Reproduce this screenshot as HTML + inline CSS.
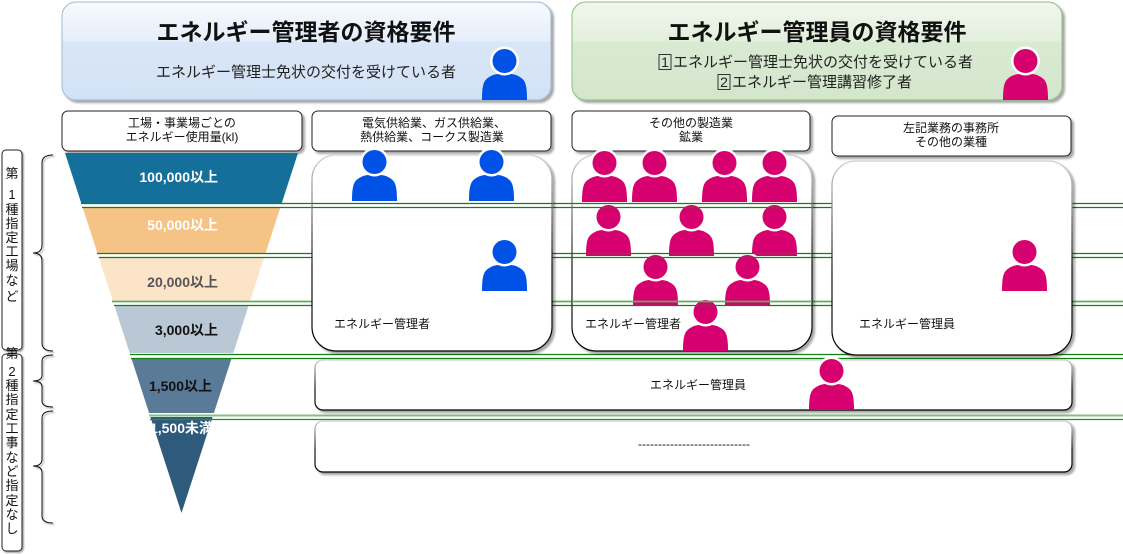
<!DOCTYPE html>
<html lang="ja">
<head>
<meta charset="utf-8">
<style>
  html,body{margin:0;padding:0;background:#fff;}
  body{width:1123px;height:554px;overflow:hidden;}
  svg{display:block;}
  text{font-family:"Liberation Sans","Noto Sans CJK JP",sans-serif;}
</style>
</head>
<body>
<svg width="1123" height="554" viewBox="0 0 1123 554" xmlns="http://www.w3.org/2000/svg">
  <defs>
    <filter id="sh" x="-5%" y="-5%" width="115%" height="125%">
      <feDropShadow dx="2.5" dy="2.5" stdDeviation="1" flood-color="#000" flood-opacity="0.35"/>
    </filter>
    <filter id="shs" x="-20%" y="-5%" width="160%" height="115%">
      <feDropShadow dx="1.5" dy="1.5" stdDeviation="0.8" flood-color="#000" flood-opacity="0.35"/>
    </filter>
    <linearGradient id="gBlue" x1="0" y1="0" x2="0" y2="1">
      <stop offset="0" stop-color="#f7fafe"/>
      <stop offset="0.4" stop-color="#e5eefa"/>
      <stop offset="0.41" stop-color="#d9e6f7"/>
      <stop offset="1" stop-color="#d2e2f5"/>
    </linearGradient>
    <linearGradient id="gGreen" x1="0" y1="0" x2="0" y2="1">
      <stop offset="0" stop-color="#f1f8ee"/>
      <stop offset="0.4" stop-color="#e2efdc"/>
      <stop offset="0.41" stop-color="#d9ead3"/>
      <stop offset="1" stop-color="#d3e6cc"/>
    </linearGradient>
    <linearGradient id="gStroke" x1="0" y1="0" x2="0" y2="1">
      <stop offset="0" stop-color="#d0d0d0"/>
      <stop offset="0.55" stop-color="#1a1a1a"/>
      <stop offset="1" stop-color="#000"/>
    </linearGradient>
    <clipPath id="funnelClip">
      <polygon points="65,153 298,153 181.5,513"/>
    </clipPath>
    <clipPath id="band6">
      <polygon points="150.4,417 212.6,417 181.5,513"/>
    </clipPath>
    <g id="person">
      <path d="M1,51 C1,42 1.5,34 5,30.5 C8,27.5 12,25.5 17,25 L30,25 C35,25.5 39,27.5 42,30.5 C45.5,34 46,42 46,51 Z"/>
      <circle cx="23.5" cy="12" r="14.5" fill="#fff"/>
      <circle cx="23.5" cy="12" r="12"/>
    </g>
  </defs>

  <!-- Header boxes -->
  <rect x="62" y="2" width="489" height="98" rx="14" fill="url(#gBlue)" stroke="#a3bad6" stroke-width="1" filter="url(#sh)"/>
  <text x="306" y="40" text-anchor="middle" font-size="23" font-weight="bold" fill="#111">エネルギー管理者の資格要件</text>
  <text x="306" y="77" text-anchor="middle" font-size="15" fill="#222">エネルギー管理士免状の交付を受けている者</text>
  <use href="#person" x="481" y="49" fill="#0052e6"/>

  <rect x="572" y="2" width="490" height="98" rx="14" fill="url(#gGreen)" stroke="#8fc07e" stroke-width="1" filter="url(#sh)"/>
  <text x="817" y="40" text-anchor="middle" font-size="23" font-weight="bold" fill="#111">エネルギー管理員の資格要件</text>
  <rect x="659" y="54.5" width="12" height="15" fill="none" stroke="#333" stroke-width="1"/>
  <text x="665" y="67" text-anchor="middle" font-size="14" fill="#222">1</text>
  <text x="673" y="67" font-size="15" fill="#222">エネルギー管理士免状の交付を受けている者</text>
  <rect x="718" y="74.5" width="12" height="15" fill="none" stroke="#333" stroke-width="1"/>
  <text x="724" y="87" text-anchor="middle" font-size="14" fill="#222">2</text>
  <text x="732" y="87" font-size="15" fill="#222">エネルギー管理講習修了者</text>
  <use href="#person" x="1002" y="49" fill="#d6006f"/>

  <!-- Category label boxes -->
  <g filter="url(#sh)">
    <rect x="62" y="111" width="240" height="40" rx="6" fill="#fff" stroke="#222"/>
    <rect x="312" y="111" width="239" height="40" rx="6" fill="#fff" stroke="#222"/>
    <rect x="572" y="111" width="238" height="40" rx="6" fill="#fff" stroke="#222"/>
    <rect x="832" y="116" width="239" height="40" rx="6" fill="#fff" stroke="#222"/>
  </g>
  <g font-size="12" fill="#111" text-anchor="middle">
    <text x="182" y="127">工場・事業場ごとの</text>
    <text x="182" y="141">エネルギー使用量(kl)</text>
    <text x="434" y="127">電気供給業、ガス供給業、</text>
    <text x="432" y="141">熱供給業、コークス製造業</text>
    <text x="691" y="127">その他の製造業</text>
    <text x="691" y="141">鉱業</text>
    <text x="951" y="132">左記業務の事務所</text>
    <text x="951" y="146">その他の業種</text>
  </g>

  <!-- Left vertical labels -->
  <g filter="url(#shs)">
    <rect x="2" y="150" width="20" height="200" rx="4" fill="#fff" stroke="#222"/>
    <rect x="2" y="354" width="20" height="197" rx="4" fill="#fff" stroke="#222"/>
  </g>
  <g font-size="13" fill="#111" text-anchor="middle">
    <text x="12" y="178">第</text>
    <text x="12" y="199">1</text>
    <text x="12" y="214">種</text>
    <text x="12" y="228">指</text>
    <text x="12" y="242">定</text>
    <text x="12" y="256">工</text>
    <text x="12" y="270">場</text>
    <text x="12" y="285">な</text>
    <text x="12" y="301">ど</text>

    <text x="12" y="358">第</text>
    <text x="12" y="376">2</text>
    <text x="12" y="390">種</text>
    <text x="12" y="404">指</text>
    <text x="12" y="419">定</text>
    <text x="12" y="433">工</text>
    <text x="12" y="447">事</text>
    <text x="12" y="462">な</text>
    <text x="12" y="476">ど</text>
    <text x="12" y="490">指</text>
    <text x="12" y="505">定</text>
    <text x="12" y="519">な</text>
    <text x="12" y="533">し</text>
  </g>

  <!-- Braces -->
  <g fill="none" stroke="#111" stroke-width="1" filter="url(#shs)">
    <path d="M53,155 Q42,155 42,163 L42,245 Q42,253 33,253 Q42,253 42,261 L42,343 Q42,351 53,351"/>
    <path d="M53,355 Q42,355 42,361 L42,375 Q42,381 33,381 Q42,381 42,387 L42,401 Q42,407 53,407"/>
    <path d="M53,411 Q42,411 42,418 L42,459 Q42,466 33,466 Q42,466 42,473 L42,516 Q42,523 53,523"/>
  </g>

  <!-- Funnel -->
  <polygon points="65,153 298,153 281.8,203 81.2,203" fill="#14709a"/>
  <polygon points="82.5,207 280.5,207 265.6,253 97.4,253" fill="#f6c386"/>
  <polygon points="98.7,257 264.3,257 250.1,301 112.9,301" fill="#fce4c9"/>
  <polygon points="114.2,305 248.8,305 233.3,353 129.7,353" fill="#b9c8d4"/>
  <polygon points="131.3,358 231.7,358 213.9,413 149.1,413" fill="#5a7b98"/>
  <polygon points="150.4,417 212.6,417 181.5,513" fill="#2e5a7b"/>

  <g font-size="14" font-weight="bold" text-anchor="end">
    <text x="218" y="182" fill="#fff">100,000以上</text>
    <text x="218" y="230" fill="#fff">50,000以上</text>
    <text x="218" y="287" fill="#555">20,000以上</text>
    <text x="218" y="335" fill="#111">3,000以上</text>
    <text x="212" y="391" fill="#111">1,500以上</text>
    <text x="213" y="433" fill="#fff" clip-path="url(#band6)">1,500未満</text>
  </g>

  <!-- Horizontal double lines (background layer) -->
  <g stroke-width="1.3" fill="none">
    <line x1="81" y1="203.5" x2="1123" y2="203.5" stroke="#128012"/>
    <line x1="82" y1="207.5" x2="1123" y2="207.5" stroke="#128012"/>
    <line x1="97" y1="253.5" x2="1123" y2="253.5" stroke="#128012"/>
    <line x1="99" y1="257.5" x2="1123" y2="257.5" stroke="#128012"/>
    <line x1="112" y1="301.5" x2="1123" y2="301.5" stroke="#5fae5f" stroke-width="1.8"/>
    <line x1="114" y1="305.5" x2="1123" y2="305.5" stroke="#128012"/>
    <line x1="130" y1="354.5" x2="1123" y2="354.5" stroke="#128012"/>
    <line x1="131" y1="358.5" x2="1123" y2="358.5" stroke="#128012"/>
    <line x1="149" y1="415.5" x2="1123" y2="415.5" stroke="#80c080" stroke-width="2"/>
    <line x1="150" y1="419.5" x2="1123" y2="419.5" stroke="#2a8a2a"/>
  </g>

  <!-- Big boxes -->
  <g filter="url(#sh)">
    <rect x="312" y="155" width="240" height="196" rx="24" fill="#fff" stroke="url(#gStroke)" stroke-width="1.2"/>
    <rect x="572" y="155" width="240" height="196" rx="24" fill="#fff" stroke="url(#gStroke)" stroke-width="1.2"/>
    <rect x="832" y="161" width="240" height="194" rx="24" fill="#fff" stroke="url(#gStroke)" stroke-width="1.2"/>
    <rect x="315" y="360" width="757" height="50" rx="8" fill="#fff" stroke="url(#gStroke)" stroke-width="1.2"/>
    <rect x="315" y="421" width="757" height="51" rx="8" fill="#fff" stroke="url(#gStroke)" stroke-width="1.2"/>
  </g>

  <!-- Lines crossing box A (pair 1) -->
  <g stroke-width="1.3" stroke="#128012">
    <line x1="312" y1="203.5" x2="552" y2="203.5"/>
    <line x1="312" y1="207.5" x2="552" y2="207.5"/>
  </g>

  <!-- People: box A (blue) -->
  <use href="#person" x="351" y="150" fill="#0052e6"/>
  <use href="#person" x="468" y="150" fill="#0052e6"/>
  <use href="#person" x="481" y="240" fill="#0052e6"/>

  <!-- People: box B (magenta) -->
  <g fill="#d6006f">
    <use href="#person" x="581" y="151"/>
    <use href="#person" x="631" y="151"/>
    <use href="#person" x="701" y="151"/>
    <use href="#person" x="751" y="151"/>
    <use href="#person" x="585" y="205"/>
    <use href="#person" x="668" y="205"/>
    <use href="#person" x="751" y="205"/>
    <use href="#person" x="632" y="255"/>
    <use href="#person" x="724" y="255"/>
    <use href="#person" x="682" y="300"/>
    <use href="#person" x="1001" y="240"/>
    <use href="#person" x="808" y="359"/>
  </g>

  <!-- Lines crossing box B -->
  <g stroke-width="1.3" fill="none">
    <line x1="572" y1="203.5" x2="812" y2="203.5" stroke="#128012"/>
    <line x1="572" y1="207.5" x2="812" y2="207.5" stroke="#128012"/>
    <line x1="572" y1="253.5" x2="812" y2="253.5" stroke="#128012"/>
    <line x1="572" y1="257.5" x2="812" y2="257.5" stroke="#128012"/>
    <line x1="572" y1="301.5" x2="812" y2="301.5" stroke="#5fae5f" stroke-width="1.8"/>
    <line x1="572" y1="305.5" x2="812" y2="305.5" stroke="#128012"/>
  </g>

  <!-- Box labels -->
  <g font-size="12" fill="#111">
    <text x="334" y="328">エネルギー管理者</text>
    <text x="585" y="328">エネルギー管理者</text>
    <text x="859" y="328">エネルギー管理員</text>
    <text x="698" y="389" text-anchor="middle">エネルギー管理員</text>
    <text x="694" y="448" text-anchor="middle">----------------------------</text>
  </g>
</svg>
</body>
</html>
